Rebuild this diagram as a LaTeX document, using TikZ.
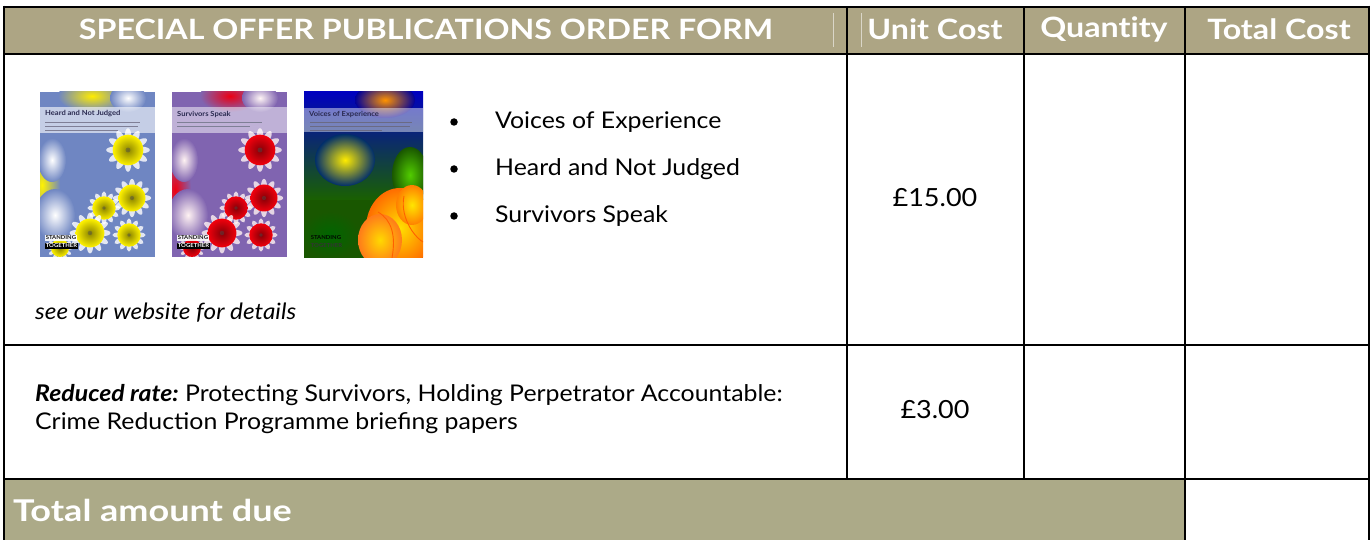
\documentclass[tikz,border=0pt]{standalone}
\usepackage{fontspec}
\setmainfont{Lato}[FakeStretch=1.08]
\newfontfamily\hdrfont{Lato}[FakeStretch=1.15, Ligatures=NoCommon]
\newfontfamily\totfont{Lato}[FakeStretch=1.2]
\frenchspacing
\definecolor{hdr}{HTML}{ADA584}
\definecolor{tot}{HTML}{ACAA88}
\definecolor{cbA}{HTML}{6F86C2}
\definecolor{cbB}{HTML}{8064B0}
\definecolor{ttl}{HTML}{2A2A50}
\newcommand{\daisy}[5]{%
  \foreach \a in {0,30,...,330}
    \fill[#5, opacity=0.8, rotate around={\a:(#1,#2)}] ({#1+#3*0.78},#2) ellipse ({#3*0.5} and {#3*0.2});
  \shade[inner color=#4!55!black, outer color=#4] (#1,#2) circle ({#3*0.9});
  \fill[black!70, opacity=0.45] (#1,#2) circle ({#3*0.14});
}
\begin{document}
\begin{tikzpicture}[x=1pt,y=-1pt,
  grid/.style={line width=2.5pt, black},
  hdrtxt/.style={text=white, font=\hdrfont\bfseries\fontsize{28}{32}\selectfont, inner sep=0pt},
  tottxt/.style={text=white, font=\totfont\bfseries\fontsize{30}{34}\selectfont, inner sep=0pt, anchor=west},
  bodytxt/.style={text=black, font=\fontsize{23}{27}\selectfont, inner sep=0pt, anchor=west},
  pricetxt/.style={text=black, font=\fontsize{25}{29}\selectfont, inner sep=0pt},
  bul/.style={circle, fill=black, minimum size=7.5pt, inner sep=0pt},
  covtitle/.style={text=ttl, font=\bfseries\fontsize{7}{8}\selectfont, inner sep=0pt, anchor=west},
  logotop/.style={text=black, font=\bfseries\fontsize{5.5}{6}\selectfont, inner sep=0.6pt, fill=white, opacity=0.9, anchor=west},
  logobot/.style={text=white, font=\bfseries\fontsize{5.5}{6}\selectfont, inner sep=0.6pt, fill=black, anchor=west}
]
\useasboundingbox (0,0) rectangle (1371,540);
\fill[white] (0,0) rectangle (1371,540);
% bands
\fill[hdr] (4,7) rectangle (1369,54);
\fill[tot] (4,479) rectangle (1185,540);
% faint header separators
\draw[hdr!45!white, line width=1pt] (833,13) -- (833,47);
\draw[hdr!45!white, line width=1pt] (861,13) -- (861,47);

% ---------- cover 1 ----------
\begin{scope}
\clip (40,92) rectangle (155,257);
\fill[cbA] (40,92) rectangle (155,257);
\shade[inner color=yellow!85!orange, outer color=cbA] (92,96) ellipse (34 and 16);
\shade[inner color=white, outer color=cbA] (128,98) ellipse (18 and 14);
\shade[inner color=yellow!90!orange, outer color=cbA] (42,185) ellipse (18 and 40);
\shade[inner color=white, outer color=cbA] (55,215) ellipse (20 and 26);
\shade[inner color=white, outer color=cbA] (52,160) ellipse (14 and 22);
\daisy{128}{150}{17}{yellow!90!orange}{white}
\daisy{132}{198}{15}{yellow!90!orange}{white}
\daisy{104}{208}{13}{yellow!90!orange}{white}
\daisy{90}{233}{16}{yellow!90!orange}{white}
\daisy{129}{235}{13}{yellow!90!orange}{white}
\daisy{60}{248}{10}{yellow!90!orange}{white}
\fill[white, opacity=0.6] (40,107) rectangle (155,133);
\draw[ttl!60, line width=0.8pt] (45,122) -- (140,122);
\draw[ttl!60, line width=0.8pt] (45,126) -- (138,126);
\draw[ttl!60, line width=0.8pt] (45,130) -- (118,130);
\end{scope}
\node[covtitle] (t1) at (45,114) {Heard and Not Judged};
\node[logotop] (l1t) at (45,238) {STANDING};
\node[logobot] (l1b) at (45,246) {TOGETHER};

% ---------- cover 2 ----------
\begin{scope}
\clip (172,92) rectangle (287,257);
\fill[cbB] (172,92) rectangle (287,257);
\shade[inner color=red!70!purple, outer color=cbB] (230,96) ellipse (30 and 16);
\shade[inner color=white!85!pink, outer color=cbB] (260,98) ellipse (18 and 14);
\shade[inner color=red!75!purple, outer color=cbB] (175,190) ellipse (16 and 40);
\shade[inner color=white!80!pink, outer color=cbB] (188,215) ellipse (20 and 26);
\shade[inner color=white!80!pink, outer color=cbB] (184,160) ellipse (14 and 22);
\daisy{260}{150}{17}{red!80!purple}{white!80!pink}
\daisy{264}{198}{15}{red!80!purple}{white!80!pink}
\daisy{236}{208}{13}{red!80!purple}{white!80!pink}
\daisy{222}{233}{16}{red!80!purple}{white!80!pink}
\daisy{261}{235}{13}{red!80!purple}{white!80!pink}
\daisy{192}{248}{10}{red!80!purple}{white!80!pink}
\fill[white, opacity=0.5] (172,107) rectangle (287,133);
\draw[ttl!60, line width=0.8pt] (177,122) -- (262,122);
\draw[ttl!60, line width=0.8pt] (177,126) -- (250,126);
\end{scope}
\node[covtitle] (t2) at (177,114) {Survivors Speak};
\node[logotop] (l2t) at (177,238) {STANDING};
\node[logobot] (l2b) at (177,246) {TOGETHER};

% ---------- cover 3 ----------
\begin{scope}
\clip (304,92) rectangle (423,258);
\fill[green!30!black!80!olive] (304,92) rectangle (423,258);
\shade[top color=blue!75!black, bottom color=green!35!black!80!olive] (304,92) rectangle (423,200);
\shade[inner color=orange!85!yellow, outer color=blue!60!black] (385,100) ellipse (30 and 18);
\shade[inner color=yellow!85!orange, outer color=green!30!blue!60!black] (345,160) ellipse (30 and 26);
\shade[inner color=green!60!yellow!80!black, outer color=green!30!black!80!olive] (410,175) ellipse (18 and 28);
\shade[inner color=black!60!green, outer color=green!30!black!80!olive] (330,235) ellipse (30 and 24);
\shade[inner color=yellow!75!orange, outer color=orange!85!red] (400,228) ellipse (34 and 40);
\shade[inner color=yellow!70!orange, outer color=orange!85!red!90] (380,240) ellipse (22 and 26);
\shade[inner color=yellow!80!orange, outer color=orange] (412,205) ellipse (16 and 20);
\draw[orange!75!red, line width=0.9pt] (378,212) .. controls (392,220) and (396,236) .. (392,258);
\draw[orange!75!red, line width=0.9pt] (404,196) .. controls (400,215) and (412,235) .. (423,242);
\fill[white, opacity=0.45] (304,108) rectangle (423,132);
\draw[ttl!70, line width=0.8pt] (310,122) -- (412,122);
\draw[ttl!70, line width=0.8pt] (310,126) -- (410,126);
\draw[ttl!70, line width=0.8pt] (310,130) -- (382,130);
\end{scope}
\node[covtitle] (t3) at (309,114) {Voices of Experience};
\node[logotop, fill=none] (l3t) at (310,238) {STANDING};
\node[logobot, fill=none, text=black!80] (l3b) at (310,246) {TOGETHER};

% ---------- grid ----------
\draw[grid] (4,7) -- (1369,7);
\draw[grid] (4,54) -- (1369,54);
\draw[grid] (4,345) -- (1369,345);
\draw[grid] (4,479) -- (1369,479);
\draw[grid] (4,5.75) -- (4,540);
\draw[grid] (1369,5.75) -- (1369,540);
\draw[grid] (847,7) -- (847,479);
\draw[grid] (1024,7) -- (1024,479);
\draw[grid] (1185,7) -- (1185,540);

% ---------- header text ----------
\node[hdrtxt] (h1) at (426,29) {SPECIAL OFFER PUBLICATIONS ORDER FORM};
\node[hdrtxt] (h2) at (935,29) {Unit Cost};
\node[hdrtxt] (h3) at (1104,29) {Quantity};
\node[hdrtxt] (h4) at (1279,29) {Total Cost};

% ---------- row 1 ----------
\node[bul] (b1) at (454,122) {};
\node[bul] (b2) at (454,169) {};
\node[bul] (b3) at (454,216) {};
\node[bodytxt] (i1) at (495,122) {Voices of Experience};
\node[bodytxt] (i2) at (495,169) {Heard and Not Judged};
\node[bodytxt] (i3) at (495,216) {Survivors Speak};
\node[pricetxt] (p1) at (935,198) {£15.00};
\node[bodytxt, font=\itshape\fontsize{22.5}{26}\selectfont] (web) at (35,313) {see our website for details};

% ---------- row 2 ----------
\node[bodytxt] (r1) at (35,395) {\textbf{\textit{Reduced rate:}} Protecting Survivors, Holding Perpetrator Accountable:};
\node[bodytxt] (r2) at (35,423) {Crime Reduction Programme briefing papers};
\node[pricetxt] (p2) at (935,410) {£3.00};

% ---------- total ----------
\node[tottxt] (tt) at (13,510) {Total amount due};
\end{tikzpicture}
\end{document}
